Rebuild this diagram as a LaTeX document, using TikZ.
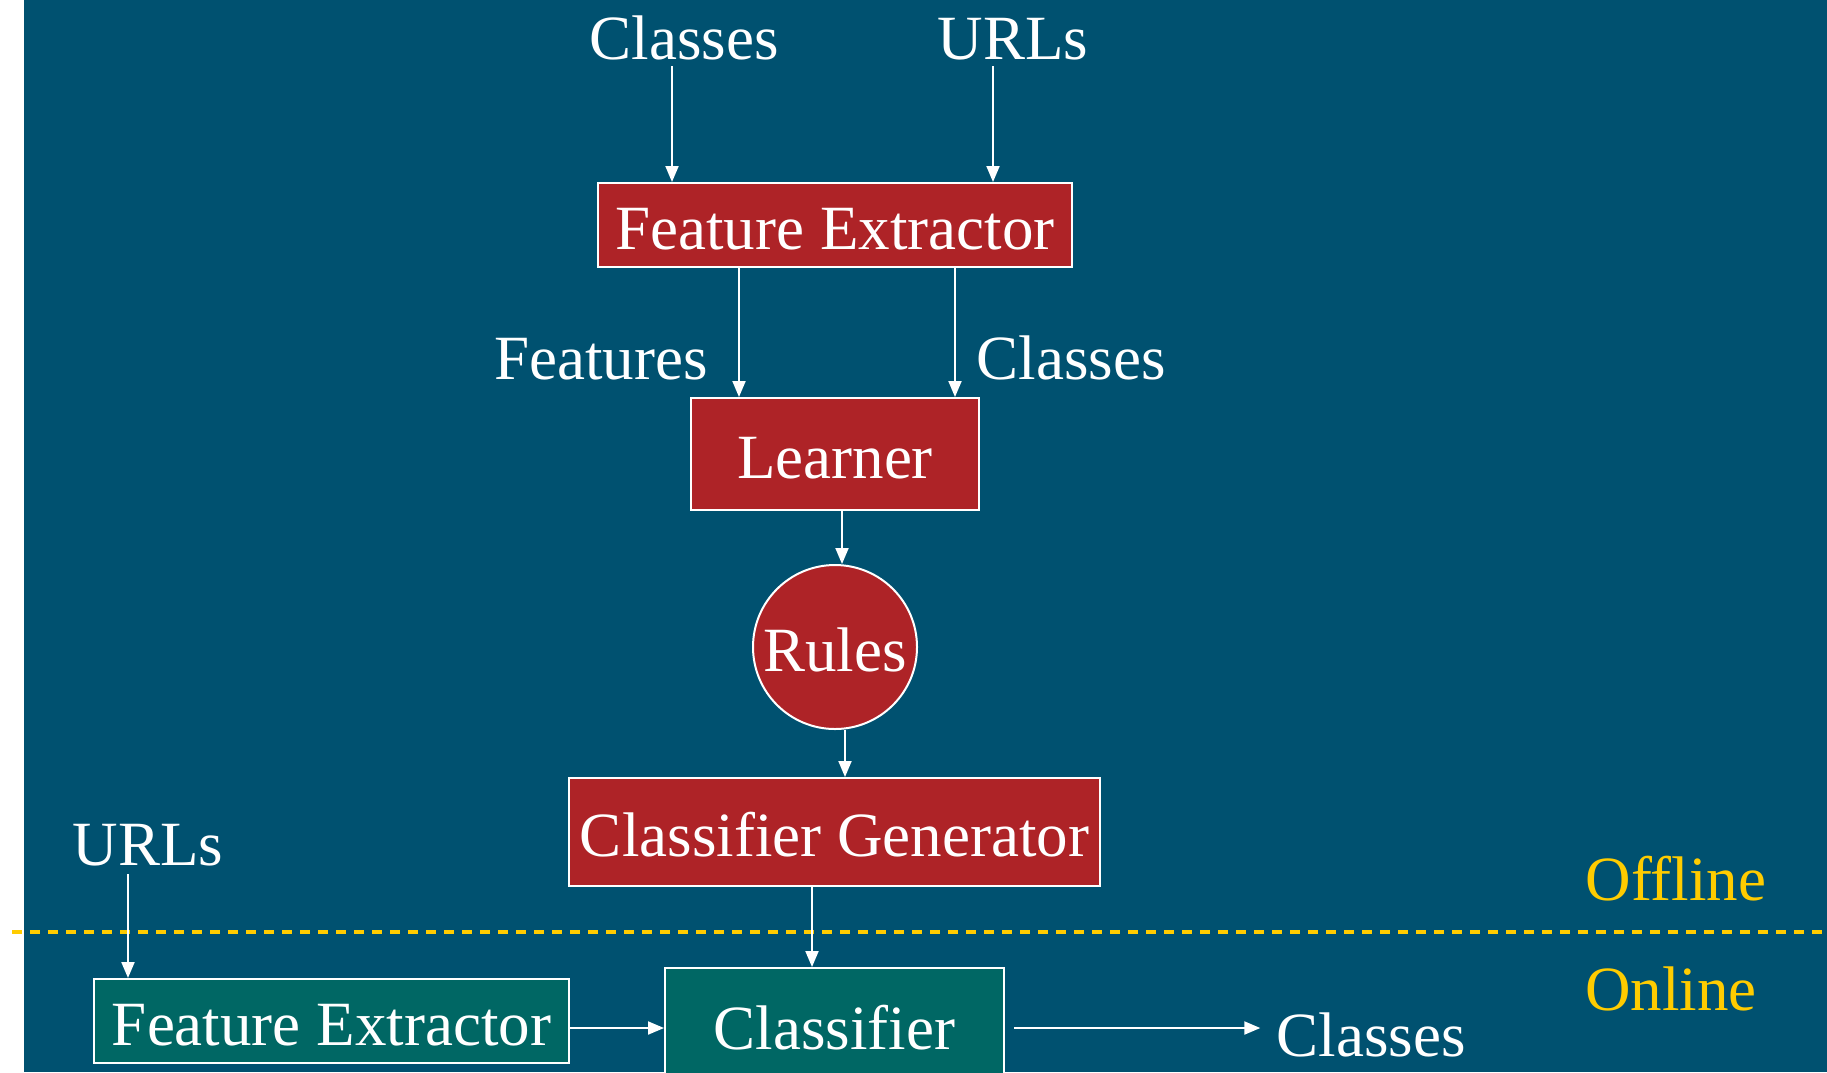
\documentclass[tikz,border=0pt]{standalone}
\usepackage{fontspec}
\setmainfont{Liberation Serif}
\usetikzlibrary{arrows.meta,shapes.geometric}
\definecolor{bgblue}{RGB}{0,81,112}
\definecolor{boxred}{RGB}{174,35,39}
\definecolor{boxteal}{RGB}{0,103,100}
\definecolor{lineyellow}{RGB}{255,204,0}
\tikzset{
  big/.style={font=\fontsize{63}{70}\selectfont, text height=48pt, text depth=0pt, inner sep=0pt},
  lbl/.style={big, text=white},
  phase/.style={big, text=lineyellow},
  redbox/.style={big, draw=white, line width=2pt, fill=boxred, text=white},
  tealbox/.style={big, draw=white, line width=2pt, fill=boxteal, text=white},
  arr/.style={draw=white, line width=2pt, -{Triangle[length=16pt,width=13pt]}}
}
\begin{document}
\begin{tikzpicture}[x=1pt,y=-1pt]
\useasboundingbox (0,0) rectangle (1827,1072);
\clip (0,0) rectangle (1827,1072);
\fill[white] (0,0) rectangle (24,1072);
\fill[bgblue] (24,0) rectangle (1827,1072);

% offline stage
\node[lbl] (tclasses) at (684,35) {Classes};
\node[lbl] (turls) at (1013,35) {URLs};
\node[redbox, minimum width=474pt, minimum height=84pt] (fe1) at (835,225) {Feature Extractor};
\node[lbl] (features) at (601,355) {Features};
\node[lbl] (mclasses) at (1071,355) {Classes};
\node[redbox, minimum width=288pt, minimum height=112pt] (learner) at (835,454) {Learner};
\node[redbox, circle, minimum size=164pt] (rules) at (835,647) {Rules};
\node[redbox, minimum width=531pt, minimum height=108pt] (cg) at (834.5,832) {Classifier Generator};
\node[phase] (offline) at (1676,876) {Offline};

% boundary between the stages
\draw[lineyellow, line width=3.5pt, dash pattern=on 10pt off 8pt] (12,932) -- (1827,932);

% online stage
\node[phase] (online) at (1671,986) {Online};
\node[lbl] (lurls) at (148,841) {URLs};
\node[tealbox, minimum width=475pt, minimum height=84pt] (fe2) at (331.5,1021) {Feature Extractor};
\node[tealbox, minimum width=339pt, minimum height=114pt] (cls) at (834.5,1025) {Classifier};
\node[lbl] (bclasses) at (1371,1032) {Classes};

% connectors
\draw[arr, shorten <=7pt] (tclasses.south -| 672,0) -- (672,0 |- fe1.north);
\draw[arr, shorten <=7pt] (turls.south -| 993,0) -- (993,0 |- fe1.north);
\draw[arr] (fe1.south -| 739,0) -- (739,0 |- learner.north);
\draw[arr] (fe1.south -| 955,0) -- (955,0 |- learner.north);
\draw[arr] (learner.south -| 842,0) -- (842,0 |- rules.north);
\draw[arr] (rules.south -| 845,0) -- (845,0 |- cg.north);
\draw[arr] (cg.south -| 812,0) -- (812,0 |- cls.north);
\draw[arr, shorten <=9pt] (lurls.south -| 128,0) -- (128,0 |- fe2.north);
\draw[arr] (fe2.east |- 0,1028) -- (cls.west |- 0,1028);
\draw[arr, shorten >=16pt, shorten <=9pt] (cls.east |- 0,1028) -- (bclasses.west |- 0,1028);
\end{tikzpicture}
\end{document}
